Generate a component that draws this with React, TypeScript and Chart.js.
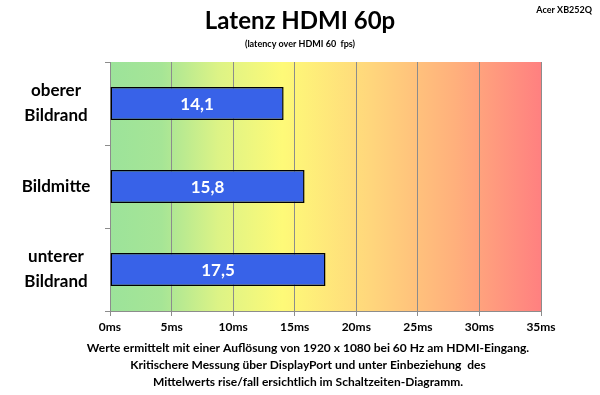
import React, { useEffect, useRef } from "react";
import { Chart, registerables } from "chart.js";
Chart.register(...registerables);

const categories: string[][] = [["oberer", "Bildrand"], ["Bildmitte"], ["unterer", "Bildrand"]];
const latencyValues: number[] = [14.1, 15.8, 17.5];
const tickValues: number[] = [0, 5, 10, 15, 20, 25, 30, 35];
const titleText = "Latenz HDMI 60p";
const subtitleText = "(latency over HDMI 60  fps)";
const cornerText = "Acer XB252Q";
const footerLines: string[] = [
  "Werte ermittelt mit einer Auflösung von 1920 x 1080 bei 60 Hz am HDMI-Eingang.",
  "Kritischere Messung über DisplayPort und unter Einbeziehung  des",
  "Mittelwerts rise/fall ersichtlich im Schaltzeiten-Diagramm.",
];

const FONT = "Lato, 'Open Sans', sans-serif";

const bgPlugin = {
  id: "bgGradient",
  beforeDraw(chart: any) {
    const { ctx, chartArea: a } = chart;
    const g = ctx.createLinearGradient(a.left, 0, a.right, 0);
    g.addColorStop(0, "#9ce39a");
    g.addColorStop(0.12, "#a6e596");
    g.addColorStop(0.25, "#dcf386");
    g.addColorStop(0.4, "#fefa78");
    g.addColorStop(0.6, "#ffd77c");
    g.addColorStop(0.8, "#ffb07c");
    g.addColorStop(1, "#ff8080");
    ctx.save();
    ctx.fillStyle = g;
    ctx.fillRect(a.left, a.top, a.right - a.left, a.bottom - a.top);
    ctx.restore();
  },
};

const textPlugin = {
  id: "texts",
  afterDraw(chart: any) {
    const { ctx } = chart;
    ctx.save();
    ctx.fillStyle = "#000";
    ctx.textAlign = "center";
    ctx.textBaseline = "middle";
    ctx.font = `bold 24px ${FONT}`;
    ctx.fillText(titleText, 300, 21);
    ctx.font = `bold 9px ${FONT}`;
    ctx.fillText(subtitleText, 300, 44);
    ctx.textAlign = "right";
    ctx.fillText(cornerText, 592, 10);
    ctx.textAlign = "center";
    ctx.font = `bold 12px ${FONT}`;
    footerLines.forEach((l, i) => ctx.fillText(l, 308, 348 + i * 17));
    // category labels, centred
    const yScale = chart.scales.y;
    ctx.font = `bold 17px ${FONT}`;
    categories.forEach((lines, i) => {
      const cy = yScale.getPixelForValue(i);
      const lh = 25;
      const start = cy - ((lines.length - 1) * lh) / 2;
      lines.forEach((t, j) => ctx.fillText(t, 56, start + j * lh));
    });
    // data labels
    const meta = chart.getDatasetMeta(0);
    ctx.fillStyle = "#fff";
    ctx.font = `bold 17px ${FONT}`;
    meta.data.forEach((bar: any, i: number) => {
      const x = (bar.x + bar.base) / 2;
      ctx.fillText(latencyValues[i].toFixed(1).replace(".", ","), x, bar.y + 1);
    });
    ctx.restore();
  },
};

export default function App() {
  const ref = useRef<HTMLCanvasElement>(null);
  useEffect(() => {
    if (!ref.current) return;
    const chart = new Chart(ref.current, {
      type: "bar",
      data: {
        labels: categories,
        datasets: [
          {
            data: latencyValues,
            backgroundColor: "#3862e8",
            borderColor: "#000",
            borderWidth: 1.5,
            borderSkipped: false,
            barPercentage: 0.4,
            categoryPercentage: 1,
          },
        ],
      },
      options: {
        indexAxis: "y",
        responsive: false,
        animation: false,
        layout: { padding: { top: 62, right: 59, bottom: 54, left: 0 } },
        plugins: { legend: { display: false }, tooltip: { enabled: false }, title: { display: false } },
        scales: {
          x: {
            min: 0,
            max: 35,
            afterBuildTicks: (s: any) => {
              s.ticks = tickValues.map((v) => ({ value: v }));
            },
            afterFit: (s: any) => {
              s.height = 30;
            },
            ticks: {
              callback: (v: any) => `${v}ms`,
              color: "#000",
              font: { family: FONT, size: 12, weight: "bold" },
              padding: 4,
            },
            grid: { color: "#8c8c8c", lineWidth: 1, tickLength: 5 },
            border: { color: "#8c8c8c" },
          },
          y: {
            afterFit: (s: any) => {
              s.width = 110;
            },
            ticks: { display: false },
            grid: { drawOnChartArea: false, color: "#8c8c8c", tickLength: 5, offset: true },
            border: { color: "#8c8c8c" },
          },
        },
      },
      plugins: [bgPlugin, textPlugin],
    });
    return () => chart.destroy();
  }, []);
  return (
    <div style={{ position: "fixed", left: 0, top: 0, width: 600, height: 395, background: "#fff" }}>
      <canvas ref={ref} width={600} height={395} style={{ display: "block" }} />
    </div>
  );
}
